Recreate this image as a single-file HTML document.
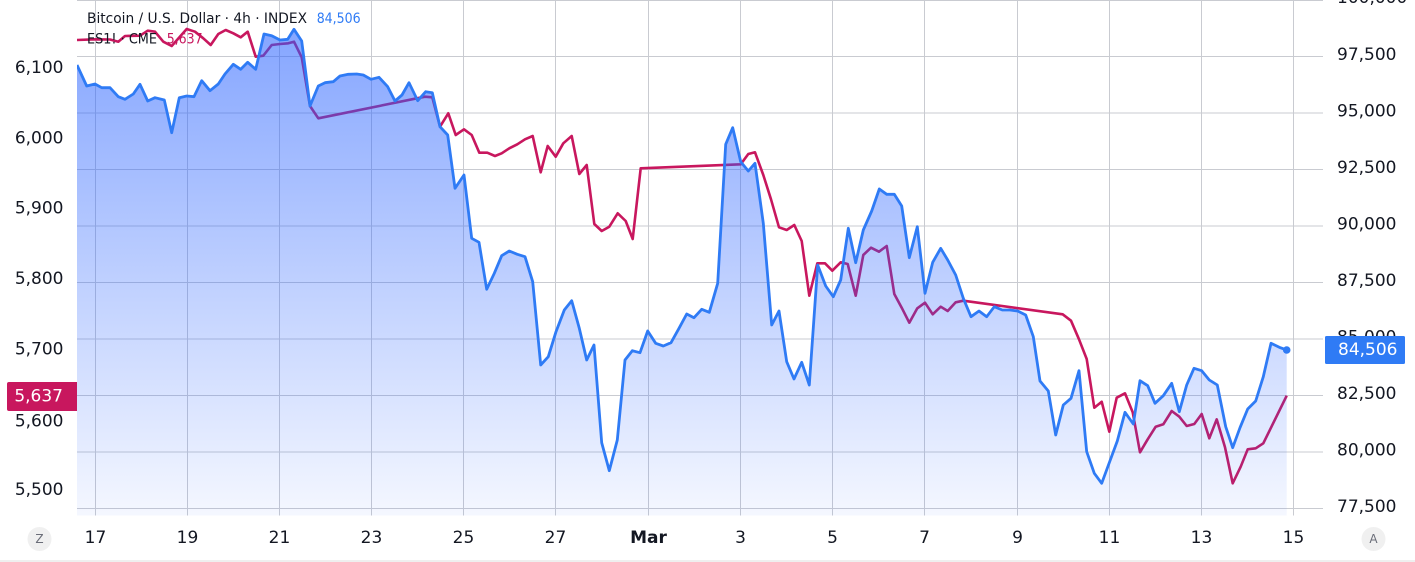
<!DOCTYPE html>
<html><head><meta charset="utf-8"><style>
html,body{margin:0;padding:0;background:#fff;}
svg{display:block;}
text{font-family:"DejaVu Sans","Liberation Sans",sans-serif;}
</style></head><body>
<svg width="1415" height="562" viewBox="0 0 1415 562" xmlns="http://www.w3.org/2000/svg">
<defs>
<linearGradient id="g" gradientUnits="userSpaceOnUse" x1="0" y1="29" x2="0" y2="515">
<stop offset="0" stop-color="#2962FF" stop-opacity="0.57"/>
<stop offset="1" stop-color="#2962FF" stop-opacity="0.05"/>
</linearGradient>
<clipPath id="pc"><rect x="77" y="0" width="1246" height="515.5"/></clipPath>
</defs>
<rect width="1415" height="562" fill="#fff"/>
<rect x="0" y="560" width="1415" height="2" fill="#EFEFEF"/>
<g stroke="#C9CBD1" stroke-width="1" shape-rendering="crispEdges">
<line x1="77" y1="0.5" x2="1323" y2="0.5"/>
<line x1="77" y1="56.5" x2="1323" y2="56.5"/>
<line x1="77" y1="113" x2="1323" y2="113"/>
<line x1="77" y1="169.5" x2="1323" y2="169.5"/>
<line x1="77" y1="226" x2="1323" y2="226"/>
<line x1="77" y1="282.5" x2="1323" y2="282.5"/>
<line x1="77" y1="339" x2="1323" y2="339"/>
<line x1="77" y1="395.5" x2="1323" y2="395.5"/>
<line x1="77" y1="452" x2="1323" y2="452"/>
<line x1="77" y1="508.5" x2="1323" y2="508.5"/>
<line x1="95.5" y1="0" x2="95.5" y2="515.5"/>
<line x1="187.5" y1="0" x2="187.5" y2="515.5"/>
<line x1="279.5" y1="0" x2="279.5" y2="515.5"/>
<line x1="371.5" y1="0" x2="371.5" y2="515.5"/>
<line x1="463.5" y1="0" x2="463.5" y2="515.5"/>
<line x1="555.5" y1="0" x2="555.5" y2="515.5"/>
<line x1="648.5" y1="0" x2="648.5" y2="515.5"/>
<line x1="740.5" y1="0" x2="740.5" y2="515.5"/>
<line x1="832.5" y1="0" x2="832.5" y2="515.5"/>
<line x1="924.5" y1="0" x2="924.5" y2="515.5"/>
<line x1="1017.5" y1="0" x2="1017.5" y2="515.5"/>
<line x1="1109.5" y1="0" x2="1109.5" y2="515.5"/>
<line x1="1201.5" y1="0" x2="1201.5" y2="515.5"/>
<line x1="1293.5" y1="0" x2="1293.5" y2="515.5"/>
</g>
<g clip-path="url(#pc)">
<polyline fill="none" stroke="#C8175E" stroke-width="2.6" stroke-linejoin="round" points="77,40 95,39.3 110,39.5 118.3,41.7 125,36 140,35.7 147.7,30.7 155,31.7 163.3,41.7 171.7,46 186.7,29 195,31.7 203.3,38.3 210.7,45 218.3,34 225.7,30 233.3,33.3 240.7,37.3 247.7,31.7 255.7,56.7 263.3,55.7 271.7,45 280,44 288.3,43.3 294,41.7 301.7,57.3 310,106 318.3,118.3 425,96.7 432.3,97.3 440,126.7 448.3,113.3 455.7,135 464,129.3 471.7,135 479.3,152.7 487.3,152.7 495,156 501.7,153.3 509.3,148.3 517.3,144.3 525,139.3 532.7,136 540.7,172.3 547.7,146 555.7,156.7 563.3,143.3 571.7,136 579.3,174 586.7,165 594.3,224 601.7,231 609.3,226.7 617.7,213.3 625.7,221 632.7,239 640.7,168.3 740.7,164.3 748.3,154 755,152.3 763.3,175 771,199.3 779,227.3 786.7,230 794.3,225 801.7,241 809.3,295.7 817.3,263.3 825,263.3 832.3,270.7 840.7,262.3 847.7,264 855.7,295.7 863.3,255 871,247.7 879,251.7 886.7,246 894.3,294 901.7,307.7 909.3,322.7 917.3,308.3 925,302.7 932.7,314.3 940.7,306.7 947.7,311 955.7,302.3 963.3,300.7 1062.7,314.3 1071,320.7 1079,339.3 1086.7,359 1094.3,407.7 1101.7,401.7 1109.3,431.7 1116.7,397.7 1125,393.3 1132.7,412.3 1140,452.3 1147.7,439.3 1155.7,426.7 1163.3,424.3 1171.7,411 1179.3,416.7 1186.7,426 1194.3,424 1201.7,414 1209.3,438.3 1216.7,419.3 1225,447.3 1232.7,483.3 1240.7,466.7 1247.7,449.3 1255.7,448.3 1263.3,443.3 1286.7,395.7"/>
<polygon fill="url(#g)" points="77,515.5 77,65 86.7,86 95,84 101.7,87.7 110,87.7 118.3,96.7 125,99.3 133.3,94 140,84.3 147.7,101 155,97.7 164.3,100 171.7,132.7 179.3,97.7 186.7,96 194,96.7 201.7,80.7 210,90.7 218.3,84 225,74 233.3,64.3 240.7,69.3 247.7,62.3 255.7,69.3 264,34 271.7,35.7 280,40 287.7,39.3 294,29.3 301.7,41 310,106 318.3,86 325,82.7 333.3,81.7 340,76 348.3,74.3 356.7,74 363.3,75 371,79.3 379,77.3 387.7,86.7 395,101 402,95 409,82.7 417.7,100.7 425.7,91.7 432.3,92.7 440,126.7 447.7,135 455,188.3 464,175 471.7,238.3 479,242.3 486.7,289.3 494.3,273.3 501.7,255.7 509.3,251 517.3,254.3 525,256.7 532.7,281.7 540.7,365 548.3,356.7 556,331.7 564.3,310 571.7,300.7 579.3,328.3 586.7,360 594,345 601.7,442.7 609.3,470.7 617.3,440 625,360 632.3,350.7 640,352.7 647.7,331 655.7,343.3 663.3,346 671,342.7 679,328.3 686.7,314 694,317.7 701.7,309.3 709.3,312.3 717.7,283.3 725.7,144.3 732.7,127.7 740.7,161.7 748.3,171 755,163.3 763.3,223.3 771.7,325 779,311 786.7,361.7 794,379 801.7,362.3 809.3,385 817.7,265 825.7,286 833.3,296.7 840.7,280 848.3,228.3 855.7,262.7 863.3,230 871.7,211 879.3,189 886.7,194.3 894.3,194.3 901.7,206 909.3,257.7 917.3,226.7 925,293.3 932.7,262.3 940.7,248.3 947.7,260 955.7,275 963.3,298.3 971,316.7 979,311 986.7,316.7 994.3,306.7 1002.3,310 1010,310 1017.7,311 1025.7,315 1033.3,336.7 1040,381 1048.3,391 1055.7,435 1063.3,405 1071,398.3 1079,370.7 1086.7,451.7 1094.3,473.3 1101.7,483.3 1109.3,462.7 1117.3,441 1125,412.3 1133.3,424 1140,380.7 1147.7,385.7 1155,403.3 1163.3,395.7 1171.7,383.3 1179.3,411.7 1186.7,385 1194,368.3 1201.7,370.7 1209.3,380 1217.3,385 1225.7,426.7 1232.7,447.7 1240,427.7 1247.7,409 1255.7,401 1263.3,376.7 1271,343.3 1279.3,347.3 1286.7,350 1286.7,515.5"/>
<polyline fill="none" stroke="#2F7BF5" stroke-width="2.8" stroke-linejoin="round" points="77,65 86.7,86 95,84 101.7,87.7 110,87.7 118.3,96.7 125,99.3 133.3,94 140,84.3 147.7,101 155,97.7 164.3,100 171.7,132.7 179.3,97.7 186.7,96 194,96.7 201.7,80.7 210,90.7 218.3,84 225,74 233.3,64.3 240.7,69.3 247.7,62.3 255.7,69.3 264,34 271.7,35.7 280,40 287.7,39.3 294,29.3 301.7,41 310,106 318.3,86 325,82.7 333.3,81.7 340,76 348.3,74.3 356.7,74 363.3,75 371,79.3 379,77.3 387.7,86.7 395,101 402,95 409,82.7 417.7,100.7 425.7,91.7 432.3,92.7 440,126.7 447.7,135 455,188.3 464,175 471.7,238.3 479,242.3 486.7,289.3 494.3,273.3 501.7,255.7 509.3,251 517.3,254.3 525,256.7 532.7,281.7 540.7,365 548.3,356.7 556,331.7 564.3,310 571.7,300.7 579.3,328.3 586.7,360 594,345 601.7,442.7 609.3,470.7 617.3,440 625,360 632.3,350.7 640,352.7 647.7,331 655.7,343.3 663.3,346 671,342.7 679,328.3 686.7,314 694,317.7 701.7,309.3 709.3,312.3 717.7,283.3 725.7,144.3 732.7,127.7 740.7,161.7 748.3,171 755,163.3 763.3,223.3 771.7,325 779,311 786.7,361.7 794,379 801.7,362.3 809.3,385 817.7,265 825.7,286 833.3,296.7 840.7,280 848.3,228.3 855.7,262.7 863.3,230 871.7,211 879.3,189 886.7,194.3 894.3,194.3 901.7,206 909.3,257.7 917.3,226.7 925,293.3 932.7,262.3 940.7,248.3 947.7,260 955.7,275 963.3,298.3 971,316.7 979,311 986.7,316.7 994.3,306.7 1002.3,310 1010,310 1017.7,311 1025.7,315 1033.3,336.7 1040,381 1048.3,391 1055.7,435 1063.3,405 1071,398.3 1079,370.7 1086.7,451.7 1094.3,473.3 1101.7,483.3 1109.3,462.7 1117.3,441 1125,412.3 1133.3,424 1140,380.7 1147.7,385.7 1155,403.3 1163.3,395.7 1171.7,383.3 1179.3,411.7 1186.7,385 1194,368.3 1201.7,370.7 1209.3,380 1217.3,385 1225.7,426.7 1232.7,447.7 1240,427.7 1247.7,409 1255.7,401 1263.3,376.7 1271,343.3 1279.3,347.3 1286.7,350"/>
<circle cx="1286.7" cy="350" r="3.8" fill="#2F7BF5"/>
</g>
<!-- legend -->
<text x="87" y="23" font-size="14" fill="#131722" textLength="220" lengthAdjust="spacingAndGlyphs">Bitcoin / U.S. Dollar · 4h · INDEX</text>
<text x="316.7" y="23" font-size="14" fill="#2F7BF5" textLength="44" lengthAdjust="spacingAndGlyphs">84,506</text>
<text x="87" y="43.5" font-size="14" fill="#131722" textLength="70" lengthAdjust="spacingAndGlyphs">ES1! · CME</text>
<text x="166.7" y="43.5" font-size="14" fill="#C8175E" textLength="36" lengthAdjust="spacingAndGlyphs">5,637</text>
<!-- right axis -->
<g font-size="17" fill="#131722" text-anchor="start">
<text x="1337" y="-2" dominant-baseline="central">100,000</text>
<text x="1337" y="55" dominant-baseline="central">97,500</text>
<text x="1337" y="111.5" dominant-baseline="central">95,000</text>
<text x="1337" y="168" dominant-baseline="central">92,500</text>
<text x="1337" y="224.5" dominant-baseline="central">90,000</text>
<text x="1337" y="281" dominant-baseline="central">87,500</text>
<text x="1337" y="337.5" dominant-baseline="central">85,000</text>
<text x="1337" y="394" dominant-baseline="central">82,500</text>
<text x="1337" y="450.5" dominant-baseline="central">80,000</text>
<text x="1337" y="507" dominant-baseline="central">77,500</text>
</g>
<rect x="1325" y="336" width="80" height="28" rx="1.5" fill="#2F7BF5"/>
<text x="1338" y="350" font-size="17" fill="#fff" dominant-baseline="central">84,506</text>
<!-- left axis -->
<g font-size="17" fill="#131722" text-anchor="end">
<text x="63.5" y="68" dominant-baseline="central">6,100</text>
<text x="63.5" y="138.5" dominant-baseline="central">6,000</text>
<text x="63.5" y="208.5" dominant-baseline="central">5,900</text>
<text x="63.5" y="279" dominant-baseline="central">5,800</text>
<text x="63.5" y="349.5" dominant-baseline="central">5,700</text>
<text x="63.5" y="421.5" dominant-baseline="central">5,600</text>
<text x="63.5" y="490" dominant-baseline="central">5,500</text>
</g>
<path d="M9,382 H77 V411 H9 Q7,411 7,409 V384 Q7,382 9,382 Z" fill="#C8175E"/>
<text x="63" y="396.5" font-size="17" fill="#fff" text-anchor="end" dominant-baseline="central">5,637</text>
<!-- time axis -->
<g font-size="17" fill="#131722" text-anchor="middle">
<text x="95.5" y="538" dominant-baseline="central">17</text>
<text x="187.5" y="538" dominant-baseline="central">19</text>
<text x="279.5" y="538" dominant-baseline="central">21</text>
<text x="371.5" y="538" dominant-baseline="central">23</text>
<text x="463.5" y="538" dominant-baseline="central">25</text>
<text x="555.5" y="538" dominant-baseline="central">27</text>
<text x="648.5" y="538" dominant-baseline="central" font-weight="bold">Mar</text>
<text x="740.5" y="538" dominant-baseline="central">3</text>
<text x="832.5" y="538" dominant-baseline="central">5</text>
<text x="924.5" y="538" dominant-baseline="central">7</text>
<text x="1017.5" y="538" dominant-baseline="central">9</text>
<text x="1109.5" y="538" dominant-baseline="central">11</text>
<text x="1201.5" y="538" dominant-baseline="central">13</text>
<text x="1293.5" y="538" dominant-baseline="central">15</text>
</g>
<circle cx="39.5" cy="539" r="12" fill="#F0F0F0"/>
<text x="39.5" y="539" font-size="12" fill="#6A6D78" text-anchor="middle" dominant-baseline="central">Z</text>
<circle cx="1373.5" cy="539" r="12" fill="#F0F0F0"/>
<text x="1373.5" y="539" font-size="12" fill="#6A6D78" text-anchor="middle" dominant-baseline="central">A</text>
</svg>
</body></html>
